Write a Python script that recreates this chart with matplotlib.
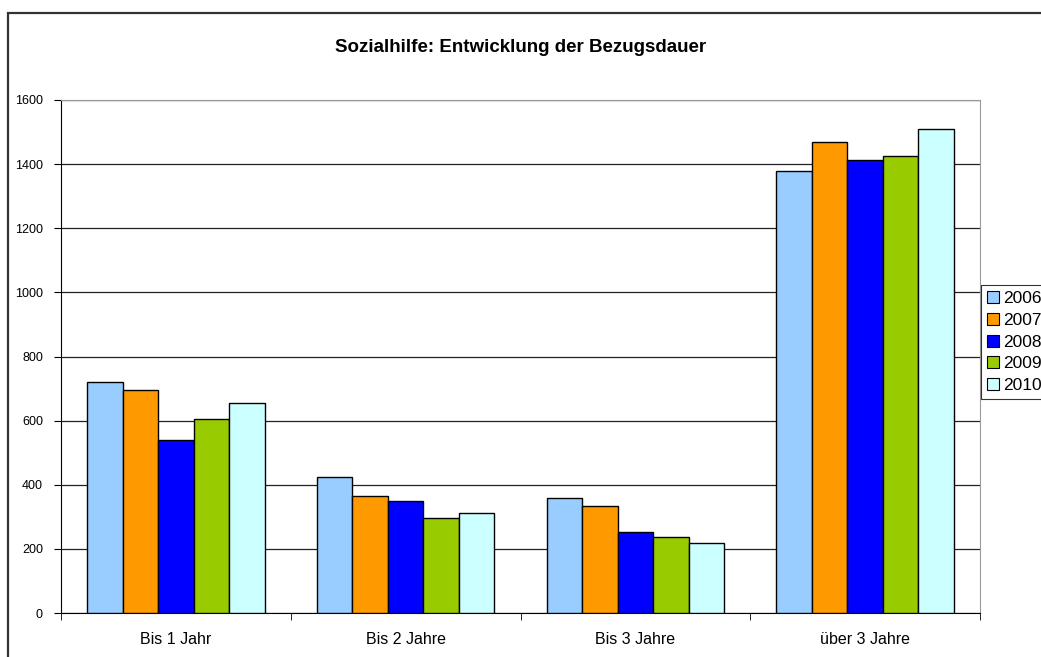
import numpy as np
import matplotlib.pyplot as plt
from matplotlib.patches import Rectangle, Patch

plt.rcParams['font.family'] = ['Liberation Sans', 'DejaVu Sans']

categories = ['Bis 1 Jahr', 'Bis 2 Jahre', 'Bis 3 Jahre', 'über 3 Jahre']
years = ['2006', '2007', '2008', '2009', '2010']
values = {
    '2006': [719, 423, 358, 1377],
    '2007': [694, 365, 333, 1469],
    '2008': [540, 350, 253, 1412],
    '2009': [604, 296, 238, 1424],
    '2010': [656, 312, 217, 1511],
}
colors = ['#99ccff', '#ff9900', '#0000ff', '#99cc00', '#ccffff']
yticks = [0, 200, 400, 600, 800, 1000, 1200, 1400, 1600]

W, H = 1041, 657
fig = plt.figure(figsize=(W / 100, H / 100), dpi=100)

# outer chart frame (extends past right/bottom edges)
fig.patches.append(Rectangle((7.5 / W, -0.1), 1.2, 1 - 12.5 / H + 0.1,
                             transform=fig.transFigure, fill=False,
                             edgecolor='#333333', linewidth=1.6))

left, right, top, bottom = 61, 980, 100, 613
ax = fig.add_axes([left / W, 1 - bottom / H, (right - left) / W, (bottom - top) / H])

x = np.arange(len(categories))
bw = 0.1545
for i, yr in enumerate(years):
    ax.bar(x + (i - 2) * bw, values[yr], width=bw, color=colors[i],
           edgecolor='black', linewidth=1.0, zorder=3)

ax.set_xlim(-0.5, len(categories) - 0.5)
ax.set_ylim(0, 1600)
ax.set_yticks(yticks)
ax.set_yticklabels([str(v) for v in yticks], fontsize=9)
ax.yaxis.grid(True, color='#222222', linewidth=0.9, zorder=0)
ax.set_xticks(x)
ax.set_xticklabels(categories, fontsize=11.5)
ax.tick_params(axis='x', length=0, pad=14)
ax.set_xticks(np.arange(-0.5, len(categories)), minor=True)
ax.tick_params(axis='x', which='minor', length=5, direction='out', color='black')
ax.tick_params(axis='y', length=5, direction='out', pad=8)

for s in ['top', 'right']:
    ax.spines[s].set_color('#999999')
ax.spines['left'].set_color('black')
ax.spines['bottom'].set_color('black')

fig.text(0.5, 1 - 47 / H, 'Sozialhilfe: Entwicklung der Bezugsdauer',
         ha='center', va='center', fontsize=13.5, fontweight='bold')

handles = [Patch(facecolor=colors[i], edgecolor='black', linewidth=0.8, label=yr)
           for i, yr in enumerate(years)]
leg = fig.legend(handles=handles, loc='upper left',
                 bbox_to_anchor=(981 / W, 1 - 285 / H), fontsize=12.5,
                 frameon=True, fancybox=False, handlelength=0.7,
                 handleheight=0.7, handletextpad=0.2, labelspacing=0.38,
                 borderpad=0.35, borderaxespad=0)
leg.get_frame().set_edgecolor('black')
leg.get_frame().set_linewidth(0.8)

fig.savefig('out.png', dpi=100)
